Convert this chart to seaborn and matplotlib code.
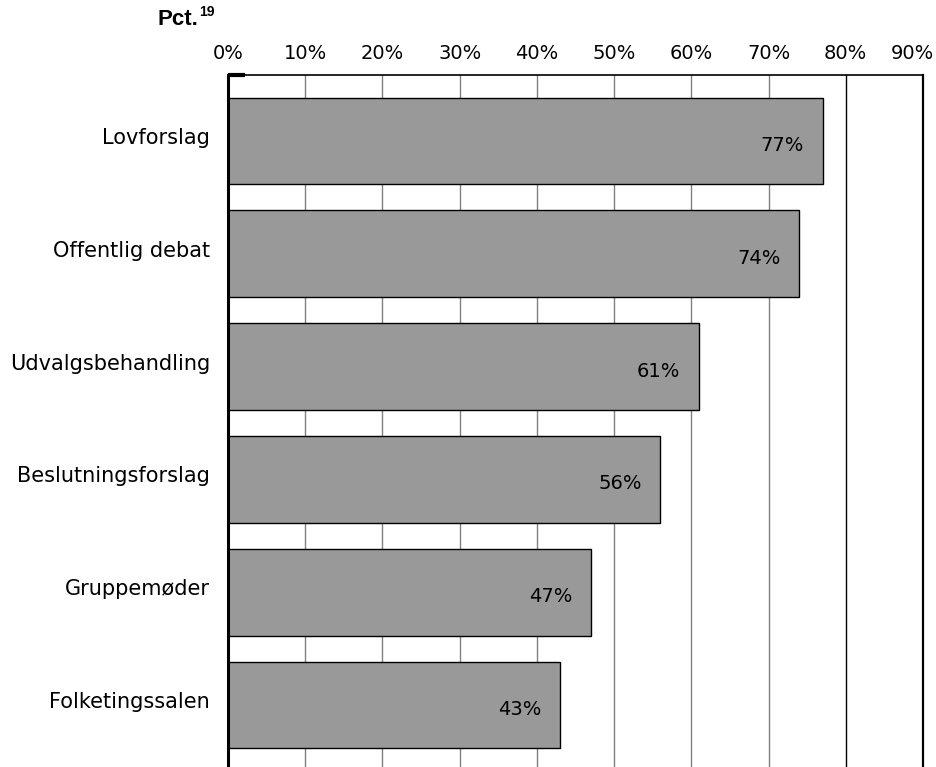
import numpy as np
import pandas as pd
import seaborn as sns
import matplotlib.transforms as mtransforms
from matplotlib import pyplot as plt

categories = ["Lovforslag", "Offentlig debat", "Udvalgsbehandling",
              "Beslutningsforslag", "Gruppemøder", "Folketingssalen"]
values = [77, 74, 61, 56, 47, 43]
tick_labels = ["0%", "10%", "20%", "30%", "40%", "50%", "60%", "70%", "80%", "90%"]

df = pd.DataFrame({"kategori": categories, "pct": values})

sns.set_style("white")
plt.rcParams['font.family'] = ['DejaVu Sans']
plt.rcParams['text.color'] = 'black'
plt.rcParams['xtick.color'] = 'black'
plt.rcParams['ytick.color'] = 'black'

fig = plt.figure(figsize=(9.37, 7.67), dpi=100)
ax = fig.add_axes([0.2433, 0.0, 0.7417, 0.9022])

ax.set_axisbelow(True)
sns.barplot(data=df, x="pct", y="kategori", color="#999999", saturation=1,
            edgecolor="black", linewidth=1, width=0.77, ax=ax)

# value labels inside the bars
for i, v in enumerate(values):
    ax.text(v - 2.4, i + 0.04, f"{v}%", ha="right", va="center", fontsize=14, color="black")

ax.set_xlim(0, 90)
ax.set_ylim(5.55, -0.585)
ax.set_xticks(np.arange(0, 100, 10))
ax.set_xticklabels(tick_labels)
ax.xaxis.tick_top()
ax.tick_params(axis="x", length=0, pad=9, labelsize=14)
ax.tick_params(axis="y", length=0, pad=13, labelsize=15)
ax.set_xlabel("")
ax.set_ylabel("")

# last tick label pulled in so it fits the figure
last = ax.get_xticklabels()[-1]
last.set_transform(last.get_transform() + mtransforms.ScaledTranslation(-0.11, 0, fig.dpi_scale_trans))

# category labels sit a little above bar centre
for lab in ax.get_yticklabels():
    lab.set_transform(lab.get_transform() + mtransforms.ScaledTranslation(0, 0.05, fig.dpi_scale_trans))

# gridlines
for t in range(10, 80, 10):
    ax.axvline(t, color="#808080", linewidth=1, zorder=0)
ax.axvline(80, color="black", linewidth=1, zorder=0)

ax.spines["bottom"].set_visible(False)
ax.spines["left"].set_linewidth(2.2)
ax.spines["top"].set_linewidth(1.2)
ax.spines["right"].set_linewidth(1.6)
for s in ax.spines.values():
    s.set_color("black")

# small thick mark at top-left corner
ax.plot([0, 2.2], [-0.585, -0.585], color="black", linewidth=3, clip_on=False, solid_capstyle="butt")

fig.text(0.1676, 0.975, "Pct.", fontsize=16, fontweight="bold", family="Liberation Sans",
         ha="left", va="center")
fig.text(0.2124, 0.984, "19", fontsize=10, fontweight="bold", family="Liberation Sans",
         ha="left", va="center")

fig.savefig("out.png", dpi=100)
